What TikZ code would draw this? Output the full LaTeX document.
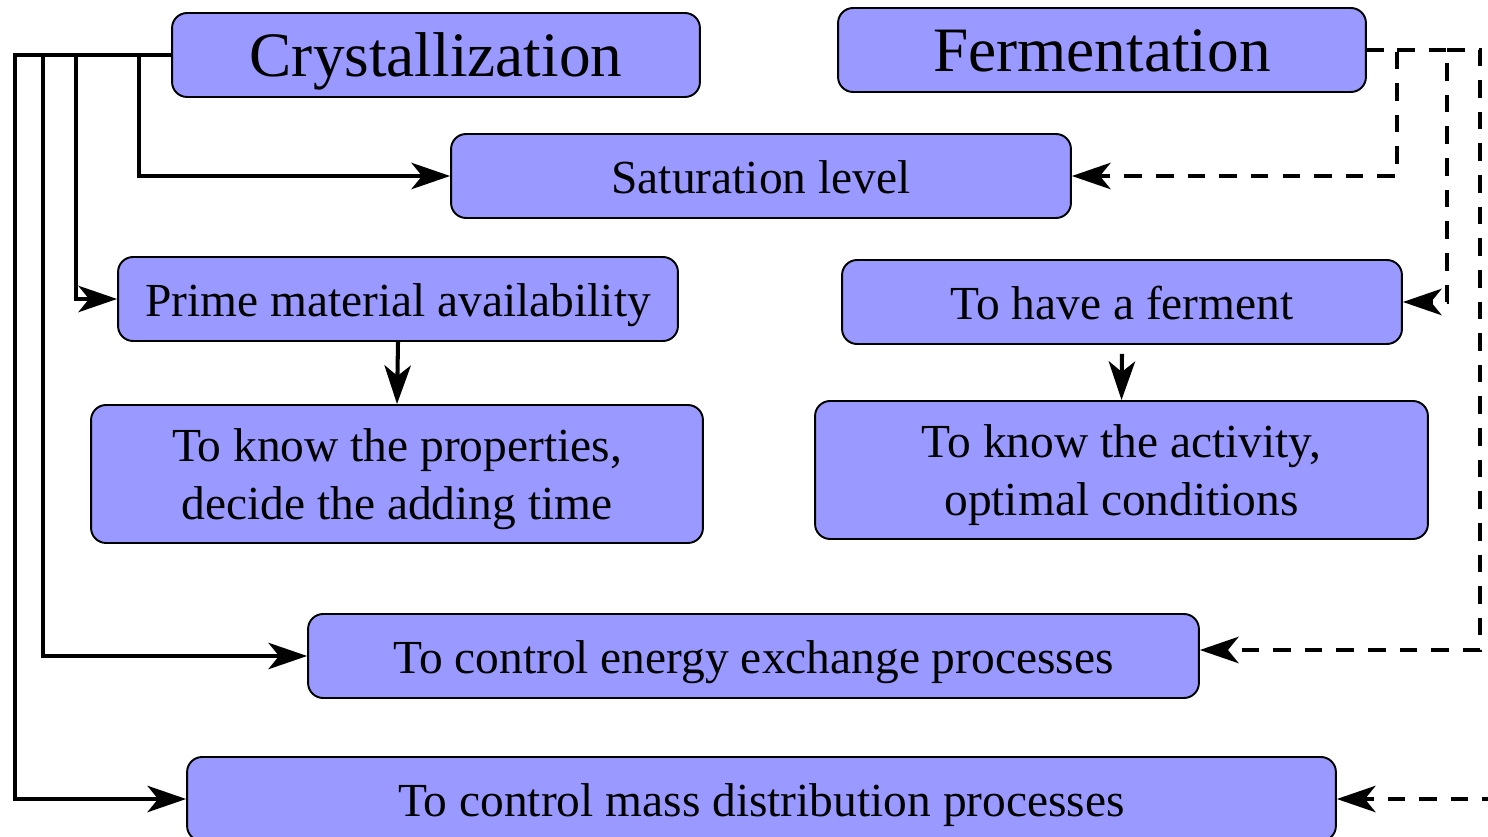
\documentclass[tikz,border=0pt]{standalone}
\usepackage{fontspec}
\setmainfont{Liberation Serif}
\usepackage{xcolor}
\usepackage{tikz}
\usetikzlibrary{arrows.meta, positioning, calc}
\definecolor{boxfill}{RGB}{153,153,255}

\begin{document}
\begin{tikzpicture}[
  x=0.02cm, y=-0.02cm,
  twobox/.style={rectangle, draw, rounded corners=0.3cm, fill=boxfill, minimum height=1.68cm,
              inner sep=0pt, align=center, font=\fontsize{27}{33}\selectfont, line width=1.1pt},
  box/.style={twobox, text height=0.92cm, text depth=0.2cm},
  title/.style={twobox, font=\fontsize{36}{40}\selectfont, text height=1.15cm, text depth=0.27cm},
  arrow/.style={-{Stealth[length=22pt, width=15pt, inset=6pt]}, line width=2.3pt},
  darrow/.style={arrow, dash pattern=on 10pt off 8pt}]

  \useasboundingbox (0,0) rectangle (1488,837);
  \clip (0,0) rectangle (1488,837);

  \node[title, minimum width=10.56cm] (cry) at (436,55) {Crystallization};
  \node[title, minimum width=10.56cm] (fer) at (1102,50) {Fermentation};
  \node[box, minimum width=12.4cm] (sat) at (761,176) {Saturation level};
  \node[box, minimum width=11.2cm] (prime) at (398,299) {Prime material availability};
  \node[box, minimum width=11.2cm] (ferm) at (1122,302) {To have a ferment};
  \node[twobox, minimum width=12.24cm, minimum height=2.76cm] (props) at (397,474)
       {\rule{0pt}{0.85cm}To know the properties,\\decide the adding time};
  \node[twobox, minimum width=12.26cm, minimum height=2.76cm] (activ) at (1121.5,470)
       {\rule{0pt}{0.85cm}To know the activity,\\optimal conditions};
  \node[box, minimum width=17.82cm] (energy) at (753.5,656) {To control energy exchange processes};
  \node[box, minimum width=22.98cm] (mass) at (761.5,799) {To control mass distribution processes};

  % branch points
  \coordinate (c1) at (15,55);
  \coordinate (c2) at (43,55);
  \coordinate (c3) at (76,55);
  \coordinate (c4) at (139,55);
  \coordinate (f1) at (1397,50);
  \coordinate (f2) at (1447,50);
  \coordinate (f3) at (1480,50);
  \coordinate (f4) at (1500,799);

  \draw[arrow] (cry.west) -- (c1) |- (mass.west);
  \draw[arrow] (c2) |- (energy.west);
  \draw[arrow] (c3) |- (prime.west);
  \draw[arrow] (c4) |- (sat.west);
  \draw[arrow] (prime.south) -- (props.north);
  \draw[arrow] ([yshift=-0.18cm]ferm.south) -- (activ.north);

  \draw[darrow] (fer.east) -- (f1) |- (sat.east);
  \draw[darrow] (f1) -- (f2) |- (ferm.east);
  \draw[darrow] (f2) -- (f3) |- ([yshift=0.12cm]energy.east);
  \draw[darrow] (f4) -- (mass.east);
\end{tikzpicture}
\end{document}
